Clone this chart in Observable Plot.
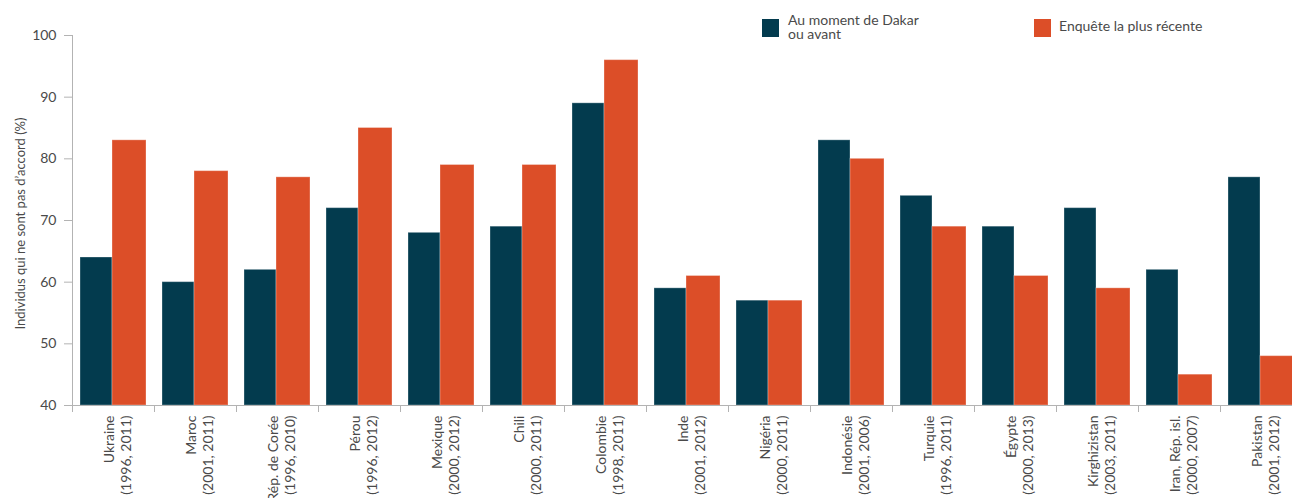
<!DOCTYPE html>
<html><head><meta charset="utf-8">
<script src="https://cdn.jsdelivr.net/npm/d3@7"></script>
<script src="https://cdn.jsdelivr.net/npm/@observablehq/plot@0.6"></script>
<style>
body{margin:0;background:#fff;font-family:Lato,sans-serif;}
#wrap{position:relative;width:1292px;height:498px;overflow:hidden;}
.leg{position:absolute;font-size:14px;color:#4a4a4a;line-height:14px;white-space:pre;}
.sw{position:absolute;width:17px;height:18px;}
</style></head><body>
<div id="wrap"></div>
<script>
const countries = ["Ukraine","Maroc","Rép. de Corée","Pérou","Mexique","Chili","Colombie","Inde","Nigéria","Indonésie","Turquie","Égypte","Kirghizistan","Iran, Rép. isl.","Pakistan"];
const years = ["(1996, 2011)","(2001, 2011)","(1996, 2010)","(1996, 2012)","(2000, 2012)","(2000, 2011)","(1998, 2011)","(2001, 2012)","(2000, 2011)","(2001, 2006)","(1996, 2011)","(2000, 2013)","(2003, 2011)","(2000, 2007)","(2001, 2012)"];
const avant = [64,60,62,72,68,69,89,59,57,83,74,69,72,62,77];
const recent = [83,78,77,85,79,79,96,61,57,80,69,61,59,45,48];
const yTicks = [40,50,60,70,80,90,100];
const seriesNames = ["Au moment de Dakar\nou avant","Enquête la plus récente"];
const colors = ["#033b4e","#dc4e28"];
const yLabel = "Individus qui ne sont pas d’accord (%)";

const data = countries.map((c,i)=>({c, yr: years[i], a: avant[i], r: recent[i]}));
const axisColor = "#b3b3b3";
const textColor = "#4a4a4a";
const plot = Plot.plot({
  width:1292, height:498, marginLeft:72, marginTop:35, marginBottom:93, marginRight:0,
  style:{fontFamily:"Lato, sans-serif", fontSize:"14px", color:textColor, background:"transparent"},
  x:{domain: countries, range:[72,1302], padding:0},
  y:{domain:[40,100]},
  marks:[
    Plot.barY(data,{x:"c", y1:40, y2:"a", fill: colors[0], insetLeft:8, insetRight:42, stroke:"#fff", strokeOpacity:0.3, strokeWidth:1}),
    Plot.barY(data,{x:"c", y1:40, y2:"r", fill: colors[1], insetLeft:40, insetRight:8, stroke:"#fff", strokeOpacity:0.3, strokeWidth:1}),
    Plot.frame({anchor:"left", stroke:axisColor}),
    Plot.frame({anchor:"bottom", stroke:axisColor}),
    Plot.axisY({ticks:yTicks, tickSize:8, tickPadding:8, stroke:axisColor, label:null, fontSize:14, fill:textColor}),
    Plot.axisX({tickSize:7, tickFormat:()=>"", dx:-41, stroke:axisColor, label:null}),
    Plot.text(data, {x:"c", text: d=> d.c+"\n"+d.yr, frameAnchor:"bottom", rotate:-90, textAnchor:"end", lineAnchor:"middle", dy:10, dx:4, fontSize:14, lineHeight:1.2, fill:textColor}),
    Plot.text([yLabel], {text: d=>d, frameAnchor:"left", rotate:-90, textAnchor:"middle", dx:-52, dy:3, fontSize:13, fill:textColor})
  ]
});
const wrap = document.getElementById("wrap");
wrap.appendChild(plot);
const legPos = [{sx:762, tx:788, ty:12.5},{sx:1034, tx:1059, ty:18.5}];
seriesNames.forEach((n,i)=>{
  const s = document.createElement("div");
  s.className="sw"; s.style.left=legPos[i].sx+"px"; s.style.top="19px"; s.style.background=colors[i];
  wrap.appendChild(s);
  const t = document.createElement("div");
  t.className="leg"; t.style.left=legPos[i].tx+"px"; t.style.top=legPos[i].ty+"px"; t.textContent=n;
  wrap.appendChild(t);
});
</script>
</body></html>
